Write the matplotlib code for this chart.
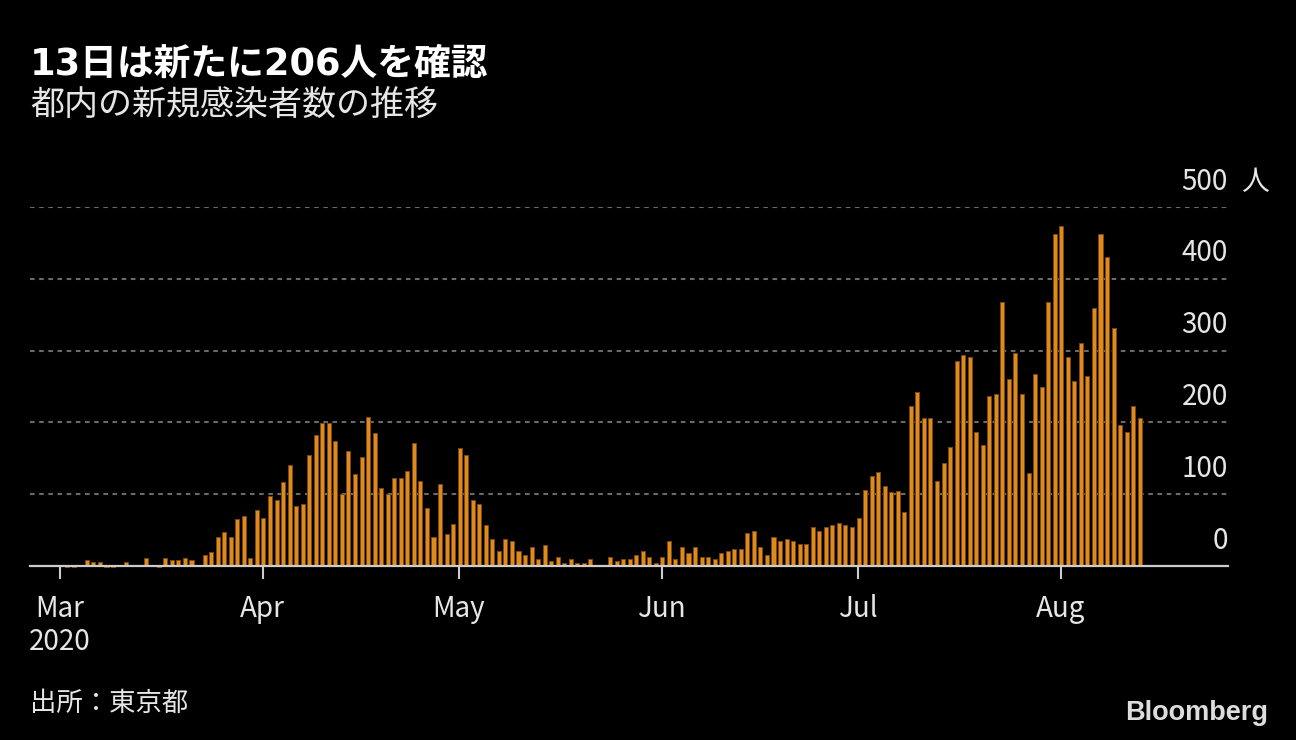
import matplotlib
matplotlib.use("Agg")
import matplotlib.pyplot as plt
import matplotlib.dates as mdates
import numpy as np
import datetime as dt

plt.rcParams['font.family'] = ['Noto Sans CJK JP', 'DejaVu Sans']

# ---------------- data ----------------
start_date = dt.date(2020, 3, 1)
mar = [2, -2, -2, 2, 8, 5, 5, -2, -2, 2, 5, 2, 2, 11, 2, -2, 11, 8, 8, 11,
       8, 2, 16, 19, 41, 47, 41, 66, 70, 11, 78]
apr = [67, 97, 92, 117, 141, 84, 86, 155, 182, 199, 199, 174, 100, 160, 128,
       152, 207, 185, 108, 100, 122, 122, 133, 171, 119, 81, 40, 114, 45, 59]
may = [165, 155, 92, 86, 57, 38, 21, 38, 35, 21, 15, 26, 10, 29, 7, 13, 4, 10,
       4, 4, 10, 1, 1, 13, 7, 10, 10, 15, 21, 13, 4]
jun = [13, 35, 10, 27, 18, 27, 13, 13, 10, 18, 21, 24, 24, 46, 49, 27, 15, 40,
       35, 38, 35, 30, 30, 54, 49, 54, 57, 60, 57, 54]
jul = [67, 106, 125, 131, 111, 103, 105, 75, 223, 242, 206, 206, 119, 144, 166,
       285, 294, 291, 187, 168, 237, 239, 367, 261, 296, 239, 130, 267, 250,
       367, 463]
aug = [474, 291, 258, 310, 264, 359, 463, 430, 332, 196, 187, 223, 206]

month_labels = ["Mar\n2020", "Apr", "May", "Jun", "Jul", "Aug"]
month_starts = [dt.date(2020, m, 1) for m in range(3, 9)]
y_ticks = [0, 100, 200, 300, 400, 500]

title = "13日は新たに206人を確認"
subtitle = "都内の新規感染者数の推移"
source = "出所：東京都"
unit = "人"

values = mar + apr + may + jun + jul + aug
dates = [start_date + dt.timedelta(days=i) for i in range(len(values))]

# ---------------- style ----------------
BG = "#000000"
BAR = "#E08A1E"
BAR_EDGE = "#7A4A12"
GRID = "#6a6a6a"
AXIS = "#cccccc"
TXT = "#e6e6e6"

W, H = 1296, 740
fig = plt.figure(figsize=(W / 100, H / 100), dpi=100, facecolor=BG)

left_px, right_px = 30, 1228
base_px, top_px = 566, 207
ax = fig.add_axes([left_px / W, (H - base_px) / H,
                   (right_px - left_px) / W, (base_px - top_px) / H])
ax.set_facecolor(BG)

xnum = mdates.date2num(dates)
bars = ax.bar(xnum + 0.1, values, width=0.62, color=BAR, edgecolor=BAR_EDGE,
              linewidth=0.7, zorder=3)
for b in bars:
    b.set_clip_on(False)

ax.set_xlim(mdates.date2num(dt.date(2020, 2, 25)) + 0.4,
            mdates.date2num(dt.date(2020, 8, 26)) + 0.6)
ax.set_ylim(0, 500)

for s in ax.spines.values():
    s.set_visible(False)

# gridlines
for yv in y_ticks[1:]:
    ax.axhline(yv, color=GRID, lw=1.5, ls=(0, (2.2, 2.2)), zorder=1)
# baseline
ax.axhline(0, color=AXIS, lw=1.6, zorder=4, clip_on=False)

# x ticks
ax.set_xticks(mdates.date2num(month_starts))
ax.set_xticklabels(month_labels, fontsize=20, color=TXT, linespacing=1.15,
                   ha='center', va='top')
ax.tick_params(axis='x', length=9, width=1.5, color=AXIS, pad=11, direction='out')
ax.set_yticks([])

# y labels on the right, above gridlines
for yv in y_ticks:
    ax.annotate(f"{yv}", xy=(1, yv), xycoords=('axes fraction', 'data'),
                xytext=(0, 12.5), textcoords='offset points',
                ha='right', va='baseline', fontsize=20, color=TXT)
ax.annotate(unit, xy=(1, 500), xycoords=('axes fraction', 'data'),
            xytext=(9.5, 12.5), textcoords='offset points',
            ha='left', va='baseline', fontsize=20, color=TXT)

# titles
fig.text(30 / W, 1 - 64 / H, title, fontsize=26.5, fontweight='bold',
         family=['DejaVu Sans', 'Noto Sans CJK JP'],
         color='white', ha='left', va='center')
fig.text(30 / W, 1 - 106 / H, subtitle, fontsize=24.5, color=TXT,
         ha='left', va='center')
fig.text(30 / W, 1 - 703 / H, source, fontsize=19, color=TXT,
         ha='left', va='center')
fig.text(1268 / W, 1 - 713 / H, "Bloomberg", fontsize=19.5, fontweight='bold',
         family='Liberation Sans', color='#dddddd', ha='right', va='center')

fig.savefig("out.png", dpi=100, facecolor=BG)
